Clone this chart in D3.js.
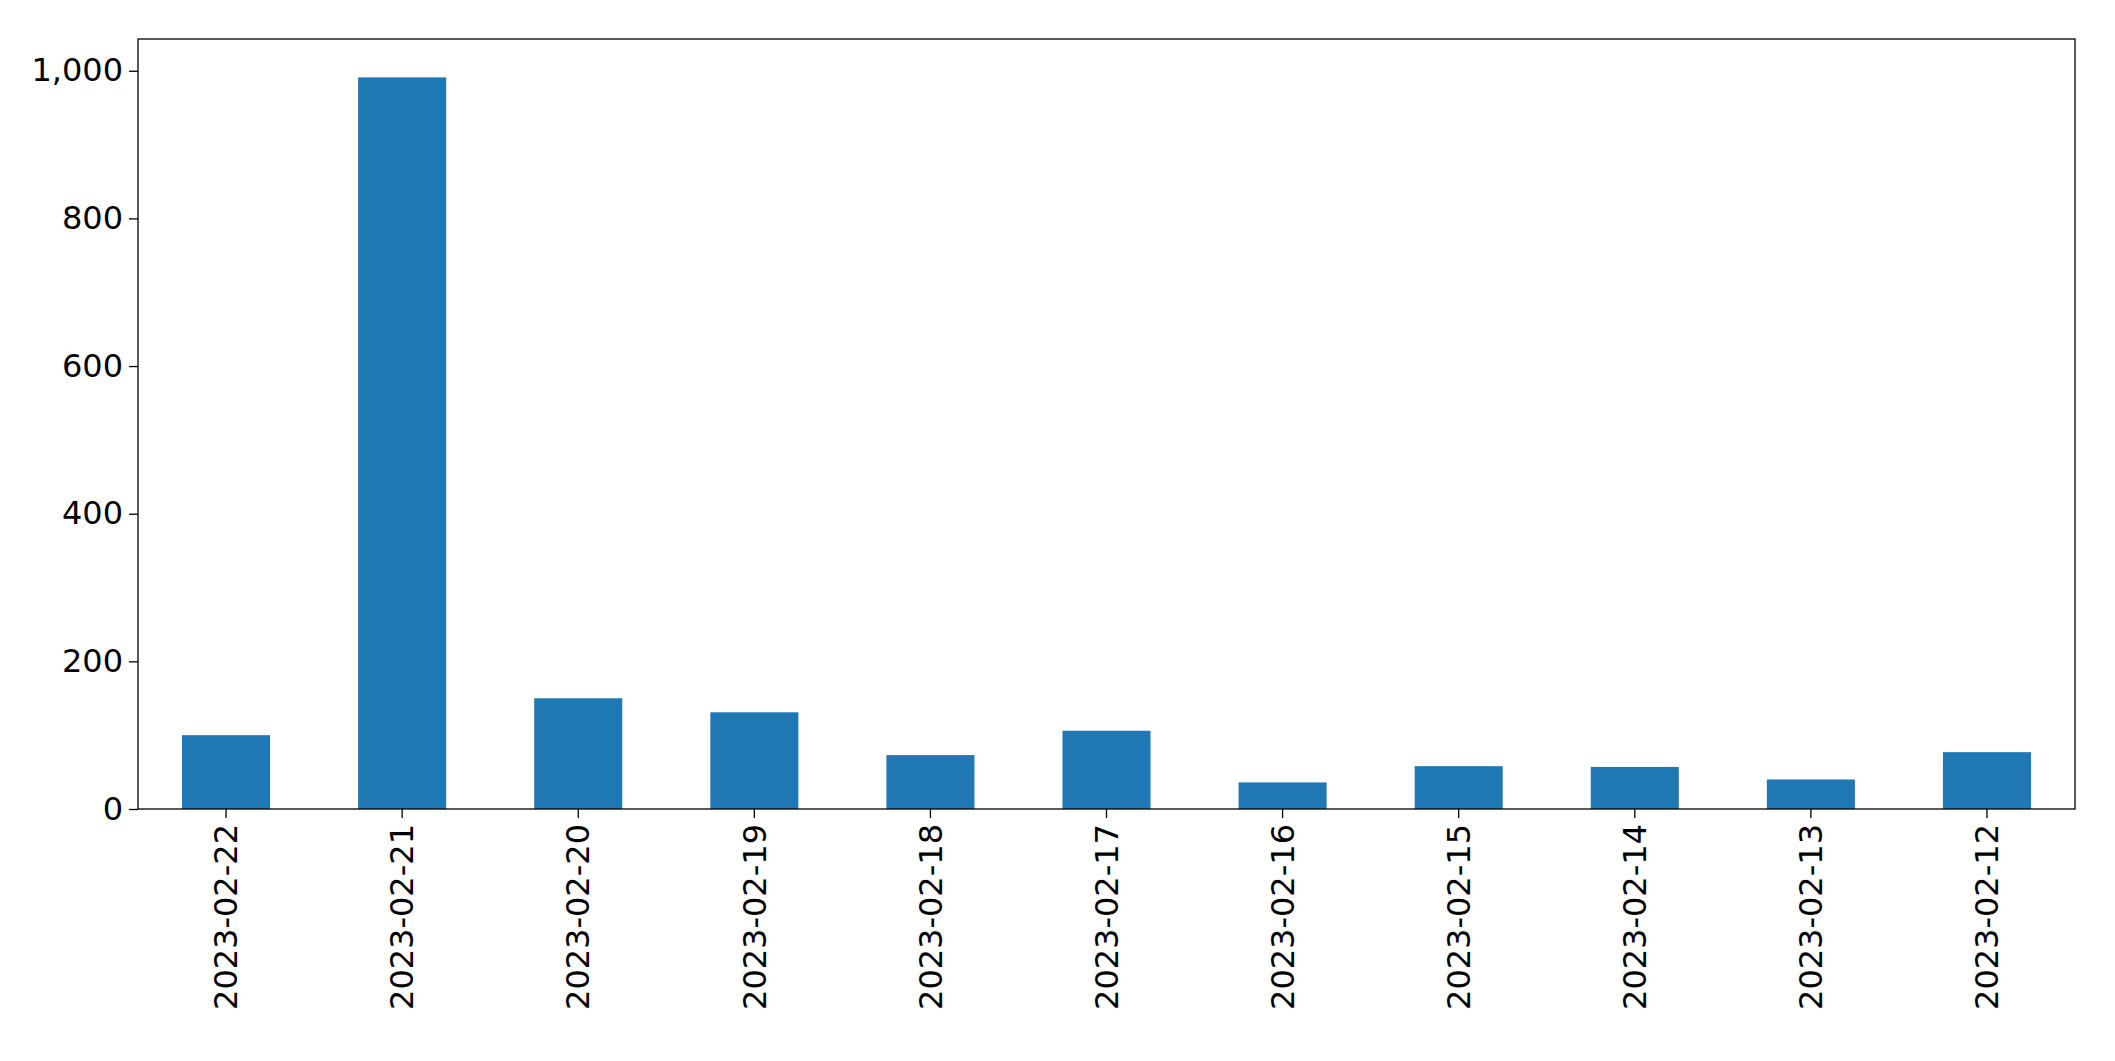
<!DOCTYPE html>
<html><head><meta charset="utf-8">
<script src="https://cdn.jsdelivr.net/npm/d3@7"></script>
<style>body{margin:0;background:#fff}</style></head>
<body><svg id="c" width="2115" height="1061"></svg>
<script>
const categories=["2023-02-22","2023-02-21","2023-02-20","2023-02-19","2023-02-18","2023-02-17","2023-02-16","2023-02-15","2023-02-14","2023-02-13","2023-02-12"];
const values=[100,991,150,131,73,106,36,58,57,40,77];
const yTicks=[0,200,400,600,800,1000];
const m={l:138,r:2075,t:39,b:809};
const svg=d3.select("#c");
const x=d3.scaleBand().domain(categories).range([m.l,m.r]).paddingInner(0.5).paddingOuter(0.25);
const y=d3.scaleLinear().domain([0,1043]).range([m.b,m.t]);
svg.selectAll("rect.b").data(values).join("rect").attr("class","b")
 .attr("x",(d,i)=>x(categories[i])).attr("width",x.bandwidth())
 .attr("y",d=>y(d)).attr("height",d=>y(0)-y(d)).attr("fill","#1f77b4");
svg.append("rect").attr("x",m.l).attr("y",m.t).attr("width",m.r-m.l).attr("height",m.b-m.t)
 .attr("fill","none").attr("stroke","#000").attr("stroke-width",1.3);
const fs="32px";
const ya=svg.append("g").attr("transform",`translate(${m.l},0)`).call(d3.axisLeft(y).tickValues(yTicks).tickSize(9).tickPadding(6));
ya.select(".domain").remove();
ya.selectAll("text").style("font-family","DejaVu Sans").style("font-size",fs).attr("fill","#000");
ya.selectAll("line").attr("stroke-width",1.3);
const xa=svg.append("g").attr("transform",`translate(0,${m.b})`).call(d3.axisBottom(x).tickSize(9).tickPadding(6));
xa.select(".domain").remove();
xa.selectAll("line").attr("stroke-width",1.3);
xa.selectAll("text").style("font-family","DejaVu Sans").style("font-size",fs).attr("fill","#000")
 .attr("transform","rotate(-90)").attr("text-anchor","end").attr("x",-15).attr("y",0).attr("dy","0.35em");
</script></body></html>
